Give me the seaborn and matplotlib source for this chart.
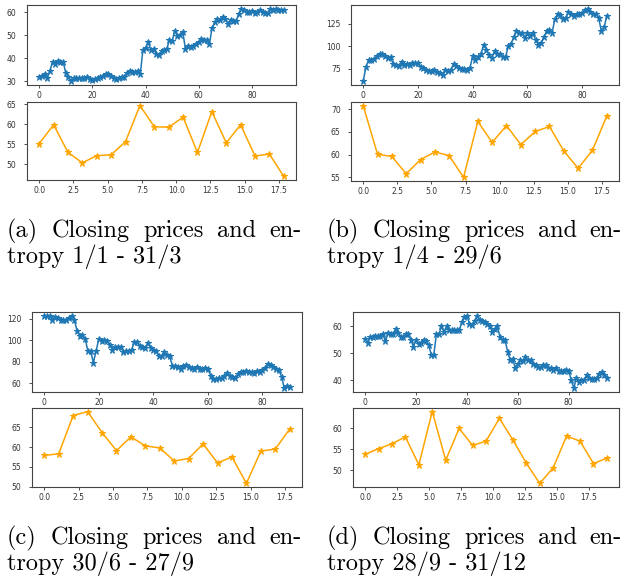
import matplotlib.pyplot as plt
import numpy as np
import seaborn as sns

# closing prices (one value per trading day) for each quarter
close_a = [32, 32.5, 33, 31.5, 34.5, 38.5, 37.5, 39, 38.5, 38.5, 33.5, 32, 30, 31.5, 31.5,
           31.5, 31.5, 31.5, 32, 31, 30.5, 31, 31.5, 32, 32.5, 33, 33, 32.5, 31.5, 31,
           31.5, 32, 32, 33.5, 34.5, 34, 34, 34.5, 33, 43.5, 44.5, 47, 43.5, 44, 42,
           41.5, 43, 43.5, 44, 48, 47.5, 52, 49.5, 50, 51.5, 44, 45.5, 45, 45.5, 46,
           47, 48.5, 48, 48, 46, 53, 55.5, 57, 56.5, 58, 57, 55, 56.5, 56, 56,
           59, 61.5, 61, 60, 60, 60.5, 59.5, 60, 61, 60, 59.5, 59.5, 61.5, 61, 61.5,
           61, 61, 61]
close_b = [61, 77, 85, 85, 86, 89, 92, 91, 89, 87, 88, 80, 79, 78, 83,
           79, 80, 79, 82, 82, 81, 77, 76, 74, 73, 72, 73.5, 71, 70, 68,
           74, 73, 74, 80, 78, 76, 75, 75, 74, 76, 89, 85, 88, 91, 102,
           96, 90, 87, 95, 91, 92, 88, 88, 100, 103, 110, 117, 115, 115, 109,
           115, 112, 115, 107, 102, 104, 110, 117, 118, 115, 130, 136, 135, 131, 132,
           138, 136, 134, 136, 136, 137, 140, 142, 138, 136, 136, 132, 117, 121, 134]
close_c = [123, 123, 123, 119, 122, 121, 119, 119, 119, 121, 123, 119, 109, 104, 105,
           101, 90, 90, 79, 90, 101, 99, 100, 99, 96, 91, 94, 94, 94, 89,
           90, 90, 91, 98, 98, 95, 94, 93, 97, 93, 91, 90, 85, 85, 89,
           86, 85, 76, 76, 75, 73, 76, 77, 75, 74, 73, 75, 73, 73, 74,
           73, 67, 64, 64, 65, 65, 67, 69, 67, 66, 65, 68, 70, 70, 71,
           70, 70, 69, 71, 70, 72, 74, 78, 77, 75, 73, 72, 66, 55, 57, 56]
close_d = [55.5, 54, 56, 56, 56.5, 56.5, 56.5, 57, 54.5, 57.5, 57, 57, 59, 57.5, 56, 56,
           57, 57, 55, 52.5, 55, 53.5, 54, 55, 54.5, 53, 49.5, 49.5, 57, 57, 60, 58,
           60, 58.5, 58.5, 58.5, 58.5, 58.5, 61.5, 63.5, 64, 61, 60.5, 62, 64, 62.5, 62, 61.5,
           61, 60, 58, 59, 60, 56, 55, 55, 50.5, 47.5, 48, 44.5, 46, 47.5, 47, 48.5,
           47.5, 47.5, 46, 45.5, 45, 45, 45.5, 45.5, 44.5, 44.5, 44, 44.5, 43.5, 43.5, 43.5, 44,
           43.5, 40, 37, 41, 39.5, 40, 40, 42, 41, 40.5, 40.5, 41, 42.5, 43, 42, 41]

# entropy, one value per window
ent_a = [55.2, 59.9, 53.0, 50.4, 52.2, 52.4, 55.7, 64.7, 59.4, 59.3, 61.8, 53.0, 63.2, 55.4,
         59.9, 52.1, 52.6, 47.0]
ent_b = [70.8, 60.1, 59.6, 55.8, 58.9, 60.6, 59.8, 55.0, 67.3, 62.7, 66.4, 62.2, 65.1, 66.2,
         60.8, 57.0, 61.0, 68.5]
ent_c = [57.9, 58.3, 68.0, 69.0, 63.7, 59.1, 62.6, 60.3, 59.8, 56.5, 57.1, 60.8, 56.0, 57.5,
         50.8, 59.0, 59.5, 64.6]
ent_d = [53.8, 55.1, 56.3, 57.9, 51.3, 63.9, 52.4, 59.9, 55.9, 56.9, 62.3, 57.2, 51.7, 46.9,
         50.6, 58.1, 56.9, 51.6, 52.9]
ent_step = 1.05

price_yticks = [[30, 40, 50, 60], [75, 100, 125], [60, 80, 100, 120], [40, 50, 60]]
ent_yticks = [[50, 55, 60, 65], [55, 60, 65, 70], [50, 55, 60, 65], [50, 55, 60]]
price_xticks = [0, 20, 40, 60, 80]
ent_xticks = [0, 2.5, 5, 7.5, 10, 12.5, 15, 17.5]

labels = ['(a)', '(b)', '(c)', '(d)']
periods = ['1/1 - 31/3', '1/4 - 29/6', '30/6 - 27/9', '28/9 - 31/12']

W, H = 626, 583
fig = plt.figure(figsize=(W / 100, H / 100), dpi=100)


def px_axes(l, t, r, b):
    return fig.add_axes([l / W, 1 - b / H, (r - l) / W, (b - t) / H])


def style(ax, xt, yt):
    ax.set_xticks(xt)
    ax.set_yticks(yt)
    ax.tick_params(axis='both', labelsize=5.5, length=2.5, width=0.6, colors='#333333')
    ax.tick_params(axis='y', pad=5)
    ax.tick_params(axis='x', pad=1.5)
    for s in ax.spines.values():
        s.set_linewidth(0.8)
        s.set_color('#444444')


# pixel boxes (left, top, right, bottom) for price and entropy axes
boxes = [((27, 5, 296, 85), (27, 102, 296, 180)),
         ((351, 5, 619, 85), (351, 102, 619, 181)),
         ((32, 312, 302, 392), (32, 408, 302, 487)),
         ((353, 312, 619, 392), (353, 408, 619, 487))]
closes = [close_a, close_b, close_c, close_d]
ents = [ent_a, ent_b, ent_c, ent_d]

for i in range(4):
    top_box, bot_box = boxes[i]
    ax1 = px_axes(*top_box)
    sns.lineplot(x=np.arange(len(closes[i])), y=closes[i], ax=ax1, color='#1f77b4',
                 marker='*', markersize=5, markeredgecolor='#1f77b4', linewidth=1.1,
                 estimator=None)
    style(ax1, price_xticks, price_yticks[i])

    ax2 = px_axes(*bot_box)
    ex = np.arange(len(ents[i])) * ent_step
    sns.lineplot(x=ex, y=ents[i], ax=ax2, color='orange', marker='*', markersize=5,
                 markeredgecolor='orange', linewidth=1.1, estimator=None)
    style(ax2, ent_xticks, ent_yticks[i])

# captions, first line justified like the LaTeX subcaption
renderer = fig.canvas.get_renderer()
cap_fs = 17.5


def justified(words, x0, x1, y):
    texts = [fig.text(0, 1 - y / H, w, fontsize=cap_fs, family='cmr10', va='baseline')
             for w in words]
    widths = [t.get_window_extent(renderer).width for t in texts]
    gap = (x1 - x0 - sum(widths)) / (len(words) - 1)
    x = x0
    for t, w in zip(texts, widths):
        t.set_x(x / W)
        x += w + gap


cap_pos = [(7, 302, 237), (327, 622, 237), (7, 302, 544), (327, 622, 544)]
for i in range(4):
    x0, x1, y = cap_pos[i]
    justified([labels[i], 'Closing', 'prices', 'and', 'en-'], x0, x1, y)
    fig.text(x0 / W, 1 - (y + 26) / H, 'tropy ' + periods[i], fontsize=cap_fs,
             family='cmr10', va='baseline')

fig.savefig('out.png', dpi=100)
